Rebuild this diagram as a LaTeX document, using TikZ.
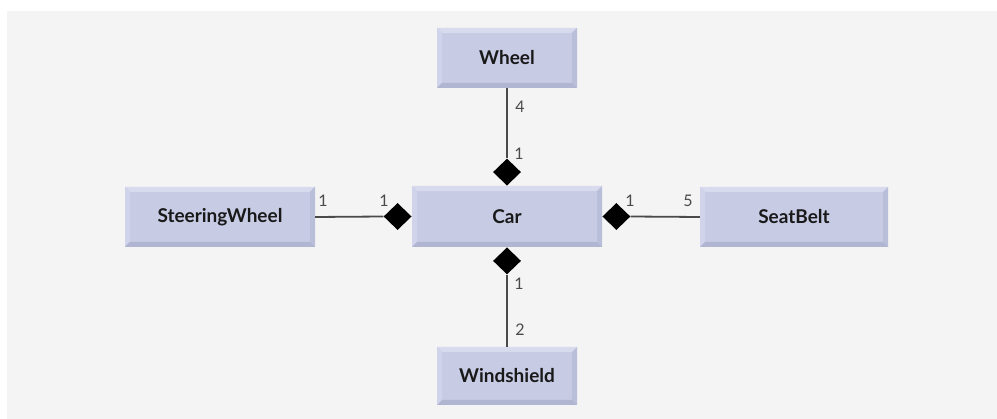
\documentclass[tikz,border=0pt]{standalone}
\usepackage{fontspec}
\setmainfont{Lato}
\usetikzlibrary{shapes.geometric,calc}
\definecolor{boxfill}{HTML}{C7CBE4}
\definecolor{boxtop}{HTML}{D8DBEE}
\definecolor{boxleft}{HTML}{D0D3EA}
\definecolor{boxright}{HTML}{B9BED9}
\definecolor{boxbot}{HTML}{B0B5D2}
\definecolor{panel}{HTML}{F4F4F4}
\definecolor{linec}{HTML}{4A4A4A}
\tikzset{
  cls/.style={rectangle, fill=boxfill, inner sep=0pt, font=\bfseries\fontsize{19}{22}\selectfont, text=black!90,
    path picture={
      \fill[boxtop] (path picture bounding box.north west) -- (path picture bounding box.north east)
        -- ($(path picture bounding box.north east)+(-5pt,-5pt)$) -- ($(path picture bounding box.north west)+(5pt,-5pt)$) -- cycle;
      \fill[boxleft] (path picture bounding box.north west) -- ($(path picture bounding box.north west)+(5pt,-5pt)$)
        -- ($(path picture bounding box.south west)+(5pt,5pt)$) -- (path picture bounding box.south west) -- cycle;
      \fill[boxright] (path picture bounding box.north east) -- ($(path picture bounding box.north east)+(-5pt,-5pt)$)
        -- ($(path picture bounding box.south east)+(-5pt,5pt)$) -- (path picture bounding box.south east) -- cycle;
      \fill[boxbot] (path picture bounding box.south west) -- ($(path picture bounding box.south west)+(5pt,5pt)$)
        -- ($(path picture bounding box.south east)+(-5pt,5pt)$) -- (path picture bounding box.south east) -- cycle;
    }},
  dia/.style={diamond, fill=black, inner sep=0pt, minimum width=28pt, minimum height=27pt},
  conn/.style={draw=linec, line width=1.8pt},
  mult/.style={font=\fontsize{16}{18}\selectfont, text=linec, inner sep=0pt}
}
\begin{document}
\begin{tikzpicture}[x=1pt,y=-1pt]
\useasboundingbox (0,0) rectangle (997,419);
\fill[white] (0,0) rectangle (997,419);
\fill[panel] (7,11) rectangle (997,419);
\node[cls, minimum width=140pt, minimum height=60pt] (wheel) at (507,58) {Wheel};
\node[cls, minimum width=190pt, minimum height=61pt] (car) at (507,216.5) {Car};
\node[cls, minimum width=190pt, minimum height=60pt] (steer) at (220,217) {SteeringWheel};
\node[cls, minimum width=188pt, minimum height=60pt] (seat) at (794,217) {SeatBelt};
\node[cls, minimum width=140pt, minimum height=58pt] (wind) at (507,376) {Windshield};
\node[dia, anchor=south] (dT) at (car.north) {};
\node[dia, anchor=east] (dL) at (car.west) {};
\node[dia, anchor=west] (dR) at (car.east) {};
\node[dia, anchor=north] (dB) at (car.south) {};
\draw[conn] (wheel.south) -- (dT.north);
\draw[conn] (steer.east) -- (dL.west);
\draw[conn] (seat.west) -- (dR.east);
\draw[conn] (wind.north) -- (dB.south);
\node[mult] (m1) at (520,107) {4};
\node[mult] (m2) at (519,154) {1};
\node[mult] (m3) at (323,201) {1};
\node[mult] (m4) at (384,201) {1};
\node[mult] (m5) at (630,201) {1};
\node[mult] (m6) at (688,201) {5};
\node[mult] (m7) at (519,284) {1};
\node[mult] (m8) at (520,330) {2};
\end{tikzpicture}
\end{document}
